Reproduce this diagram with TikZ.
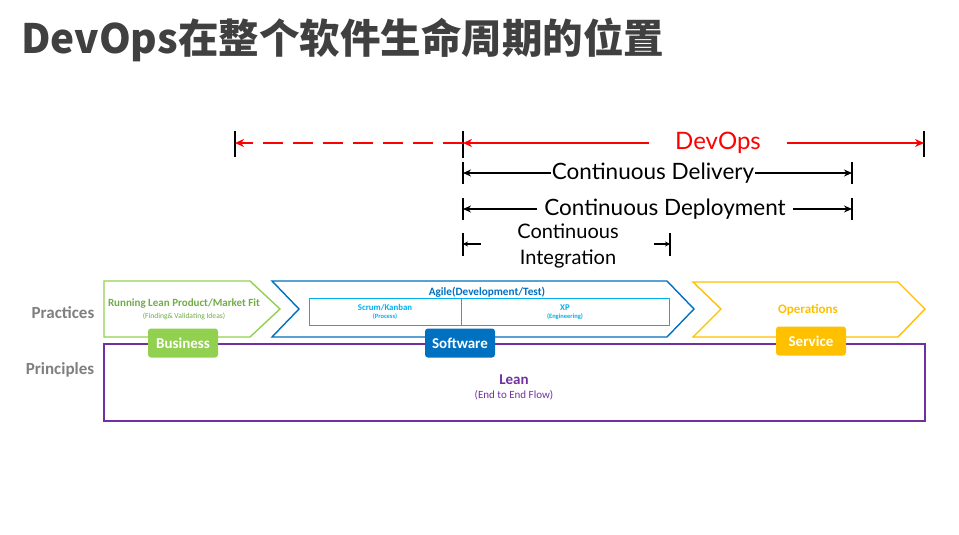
\documentclass[tikz,border=0pt]{standalone}
\usepackage{fontspec}
\setmainfont{Carlito}
\newfontfamily\cjk{Noto Sans CJK SC}
\newfontfamily\gill{Lato}
\usetikzlibrary{arrows.meta}
\definecolor{titlegray}{HTML}{404040}
\definecolor{labgray}{HTML}{7F7F7F}
\definecolor{dred}{HTML}{FF0000}
\definecolor{bgreen}{HTML}{92D050}
\definecolor{ggreen}{HTML}{70AD47}
\definecolor{bblue}{HTML}{0070C0}
\definecolor{lblue}{HTML}{00B0F0}
\definecolor{byellow}{HTML}{FFC000}
\definecolor{bpurple}{HTML}{7030A0}
\tikzset{
  tickbar/.style={line width=2.2pt, black},
  blackarr/.style={line width=1.8pt, black, -{Stealth[length=8pt,width=7pt]}},
  redarr/.style={line width=2.4pt, dred, -{Stealth[length=9pt,width=8pt]}},
  gilltext/.style={font=\gill\fontsize{22.5}{26}\selectfont, fill=white, inner sep=1pt},
  chev/.style={line width=1.4pt},
  badge/.style={rounded corners=3pt, minimum width=70pt, minimum height=29pt, inner sep=0pt, text=white, font=\bfseries\fontsize{15}{16}\selectfont},
  sidelab/.style={text=labgray, font=\bfseries\fontsize{17}{18}\selectfont},
}
\begin{document}
\begin{tikzpicture}[x=1pt,y=-1pt]
\useasboundingbox (0,0) rectangle (959,535);
% title
\node[anchor=west, inner sep=0pt, text=titlegray, font=\cjk\bfseries\fontsize{40.5}{44}\selectfont] (title) at (21,40) {DevOps在整个软件生命周期的位置};

% ---- DevOps row
\coordinate (dl) at (235,143);
\coordinate (dm) at (463,143);
\coordinate (dr) at (924,143);
\draw[tickbar] (235,131) -- (235,157);
\draw[tickbar] (463,131) -- (463,158);
\draw[tickbar] (924,131) -- (924,157);
\draw[redarr, dash pattern=on 20pt off 10pt] (dm) -- (dl);
\draw[redarr, {Stealth[length=9pt,width=8pt]}-{Stealth[length=9pt,width=8pt]}] (dm) -- (dr);
\node[fill=white, inner xsep=26pt, inner ysep=2pt, text=dred, font=\gill\fontsize{24}{26}\selectfont] (devops) at (718,143) {DevOps};

% ---- Continuous Delivery
\coordinate (cdl) at (463,173);
\coordinate (cdr) at (852,173);
\draw[tickbar] (463,162) -- (463,184);
\draw[tickbar] (852,162) -- (852,184);
\draw[blackarr, {Stealth[length=8pt,width=7pt]}-{Stealth[length=8pt,width=7pt]}] (cdl) -- (cdr);
\node[gilltext] (cdel) at (653,173) {Continuous Delivery};

% ---- Continuous Deployment
\coordinate (cpl) at (463,209);
\coordinate (cpr) at (852,209);
\draw[tickbar] (463,198) -- (463,220);
\draw[tickbar] (852,198) -- (852,220);
\draw[blackarr, {Stealth[length=8pt,width=7pt]}-{Stealth[length=8pt,width=7pt]}] (cpl) -- (cpr);
\node[gilltext, inner xsep=7pt] (cdep) at (665,209) {Continuous Deployment};

% ---- Continuous Integration
\coordinate (cil) at (463,244);
\coordinate (cir) at (670,244);
\coordinate (cila) at (481,244);
\coordinate (cira) at (654,244);
\draw[tickbar] (463,233) -- (463,256);
\draw[tickbar] (670,233) -- (670,256);
\draw[line width=1.5pt, -{Stealth[length=5pt,width=5pt]}] (cila) -- (cil);
\draw[line width=1.5pt, -{Stealth[length=5pt,width=5pt]}] (cira) -- (cir);
\node[font=\gill\fontsize{20}{26}\selectfont, align=center, inner sep=0pt] (ci) at (568,246) {Continuous\\Integration};

% ---- side labels
\node[sidelab] (prac) at (63,313) {Practices};
\node[sidelab] (prin) at (60,370) {Principles};

% ---- purple lean box
\draw[bpurple, line width=1.6pt] (104,344) rectangle (925,421);
\node[text=bpurple, font=\bfseries\fontsize{15}{16}\selectfont] (lean) at (514,380) {Lean};
\node[text=bpurple, font=\fontsize{11}{12}\selectfont] (leansub) at (514,395) {(End to End Flow)};

% ---- chevrons
\draw[chev, bgreen, fill=white] (104,281) -- (250,281) -- (280,309) -- (250,337) -- (104,337) -- cycle;
\node[text=ggreen, font=\bfseries\fontsize{11}{12}\selectfont] (rl) at (184,304) {Running Lean Product/Market Fit};
\node[text=ggreen, font=\fontsize{7.6}{8}\selectfont] (rlsub) at (184,316) {(Finding\& Validating Ideas)};

\draw[chev, bblue, fill=white] (272,281) -- (667,281) -- (694,309) -- (667,337) -- (272,337) -- (299,309) -- cycle;
\node[text=bblue, font=\bfseries\fontsize{11.2}{12}\selectfont] (agile) at (487,292) {Agile(Development/Test)};
\draw[lblue, line width=1pt] (309,298) rectangle (669,325);
\draw[lblue, line width=1pt] (461,298) -- (461,325);
\node[text=lblue, font=\bfseries\fontsize{8.8}{9}\selectfont] (scrum) at (385,308) {Scrum/Kanban};
\node[text=lblue, font=\bfseries\fontsize{6.5}{7}\selectfont] (proc) at (385,317) {(Process)};
\node[text=lblue, font=\bfseries\fontsize{8.8}{9}\selectfont] (xp) at (565,308) {XP};
\node[text=lblue, font=\bfseries\fontsize{6.5}{7}\selectfont] (eng) at (565,317) {(Engineering)};

\draw[chev, byellow, fill=white] (693,282) -- (898,282) -- (925,309) -- (898,337) -- (693,337) -- (721,309) -- cycle;
\node[text=byellow, font=\bfseries\fontsize{13}{14}\selectfont] (ops) at (808,310) {Operations};

% ---- badges
\node[badge, fill=bgreen] (bus) at (183,343) {Business};
\node[badge, fill=bblue] (soft) at (460,343) {Software};
\node[badge, fill=byellow] (serv) at (811,341) {Service};
\end{tikzpicture}
\end{document}
